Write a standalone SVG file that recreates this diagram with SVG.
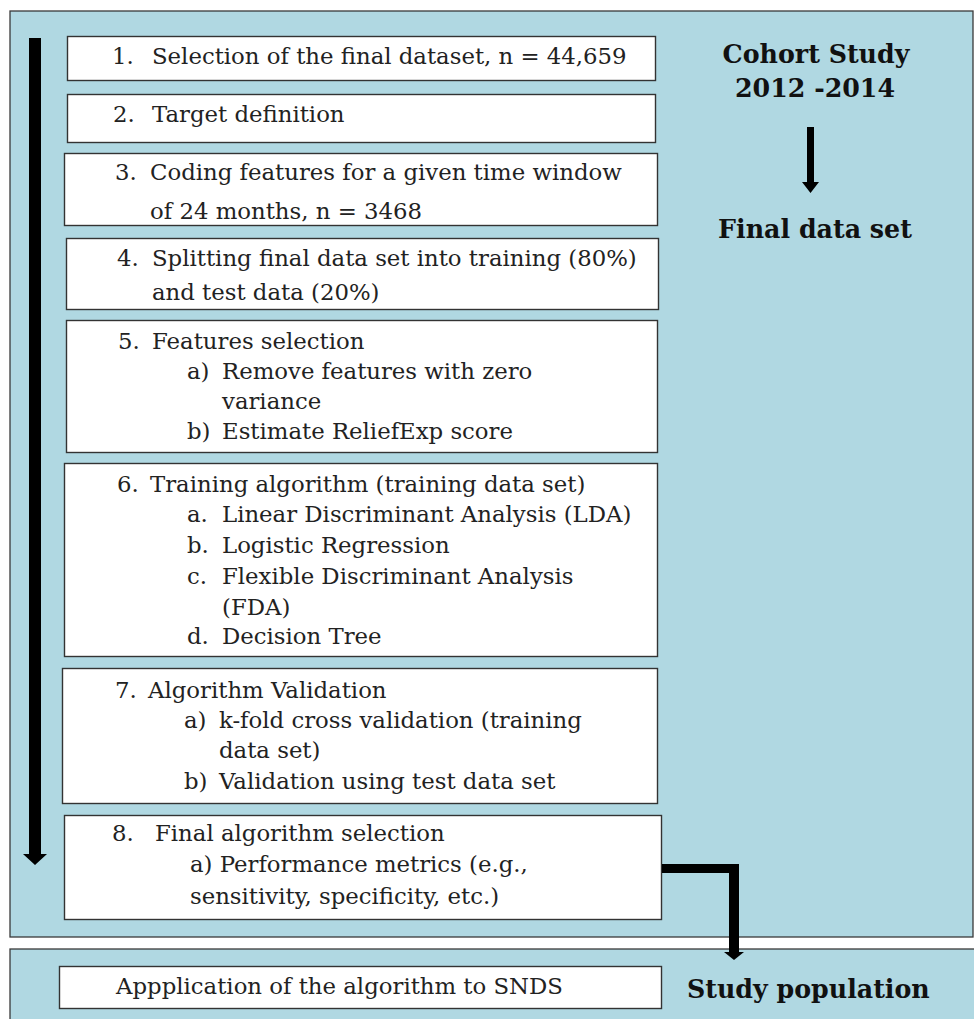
<svg xmlns="http://www.w3.org/2000/svg" width="974" height="1019" viewBox="0 0 974 1019">
<style>
.panel{fill:#b0d8e2;stroke:#3a3a3a;stroke-width:1.3}
.box{fill:#fff;stroke:#333;stroke-width:1.4}
.t{font-family:"DejaVu Serif","Liberation Serif",serif;font-size:22.8px;fill:#222}
.h{font-family:"DejaVu Serif","Liberation Serif",serif;font-size:25.3px;font-weight:bold;fill:#111}
.arrow{fill:#000}
</style>
<rect width="974" height="1019" fill="#fff"/>
<g id="panel-cohort"><rect class="panel" x="10" y="11" width="963" height="926"/></g>
<g id="panel-study"><rect class="panel" x="10" y="949" width="970" height="80"/></g>

<g id="label-cohort">
<text class="h" x="816" y="63" text-anchor="middle">Cohort Study</text>
<text class="h" x="815" y="97" text-anchor="middle">2012 -2014</text>
</g>
<g id="label-final"><text class="h" x="815" y="238" text-anchor="middle">Final data set</text></g>
<g id="label-study"><text class="h" x="687" y="998">Study population</text></g>

<g id="step1"><rect class="box" x="67.5" y="36.5" width="588" height="44"/>
<text class="t" x="112" y="64">1.</text><text class="t" x="152" y="64">Selection of the final dataset, n = 44,659</text></g>

<g id="step2"><rect class="box" x="67.5" y="94.5" width="588" height="48"/>
<text class="t" x="113" y="122">2.</text><text class="t" x="152" y="122">Target definition</text></g>

<g id="step3"><rect class="box" x="64.5" y="153.5" width="593" height="72"/>
<text class="t" x="115" y="180">3.</text><text class="t" x="150" y="180">Coding features for a given time window</text>
<text class="t" x="150" y="219">of 24 months, n = 3468</text></g>

<g id="step4"><rect class="box" x="66.5" y="238.5" width="592" height="71"/>
<text class="t" x="117" y="266">4.</text><text class="t" x="152" y="266">Splitting final data set into training (80%)</text>
<text class="t" x="152" y="300">and test data (20%)</text></g>

<g id="step5"><rect class="box" x="66.5" y="320.5" width="591" height="132"/>
<text class="t" x="118" y="349">5.</text><text class="t" x="152" y="349">Features selection</text>
<text class="t" x="187" y="379">a)</text><text class="t" x="222" y="379">Remove features with zero</text>
<text class="t" x="222" y="409">variance</text>
<text class="t" x="187" y="439">b)</text><text class="t" x="222" y="439">Estimate ReliefExp score</text></g>

<g id="step6"><rect class="box" x="64.5" y="463.5" width="593" height="193"/>
<text class="t" x="117" y="492">6.</text><text class="t" x="150" y="492">Training algorithm (training data set)</text>
<text class="t" x="187" y="522">a.</text><text class="t" x="222" y="522">Linear Discriminant Analysis (LDA)</text>
<text class="t" x="187" y="553">b.</text><text class="t" x="222" y="553">Logistic Regression</text>
<text class="t" x="187" y="584">c.</text><text class="t" x="222" y="584">Flexible Discriminant Analysis</text>
<text class="t" x="222" y="615">(FDA)</text>
<text class="t" x="187" y="644">d.</text><text class="t" x="222" y="644">Decision Tree</text></g>

<g id="step7"><rect class="box" x="62.5" y="668.5" width="595" height="135"/>
<text class="t" x="115" y="698">7.</text><text class="t" x="148" y="698">Algorithm Validation</text>
<text class="t" x="184" y="728">a)</text><text class="t" x="219" y="728">k-fold cross validation (training</text>
<text class="t" x="219" y="758">data set)</text>
<text class="t" x="184" y="789">b)</text><text class="t" x="219" y="789">Validation using test data set</text></g>

<g id="step8"><rect class="box" x="64.5" y="815.5" width="597" height="104"/>
<text class="t" x="112" y="841">8.</text><text class="t" x="155" y="841">Final algorithm selection</text>
<text class="t" x="190" y="872">a) Performance metrics (e.g.,</text>
<text class="t" x="190" y="904">sensitivity, specificity, etc.)</text></g>

<g id="application"><rect class="box" x="59.5" y="966.5" width="602" height="42"/>
<text class="t" x="116" y="994">Appplication of the algorithm to SNDS</text></g>

<g id="connectors">
<path class="arrow" d="M29 38 H41 V854 H47 L35 865 L23 854 H29 Z"/>
<path class="arrow" d="M807 127 H814 V182 H819 L810.5 193 L802 182 H807 Z"/>
<path class="arrow" d="M662 864 H739 V952 H744 L734 960 L724 952 H729 V873 H662 Z"/>
</g>
</svg>
